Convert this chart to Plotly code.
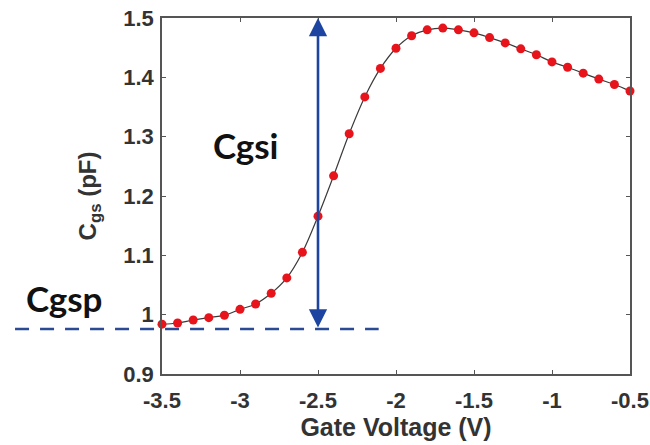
import plotly.graph_objects as go

# Data
gate_voltage = [-3.5, -3.4, -3.3, -3.2, -3.1, -3.0, -2.9, -2.8, -2.7, -2.6,
                -2.5, -2.4, -2.3, -2.2, -2.1, -2.0, -1.9, -1.8, -1.7, -1.6,
                -1.5, -1.4, -1.3, -1.2, -1.1, -1.0, -0.9, -0.8, -0.7, -0.6, -0.5]
cgs_pf = [0.984, 0.986, 0.991, 0.995, 0.999, 1.009, 1.018, 1.036, 1.062, 1.105,
          1.166, 1.234, 1.305, 1.367, 1.415, 1.449, 1.470, 1.480, 1.483, 1.480,
          1.475, 1.467, 1.458, 1.448, 1.438, 1.426, 1.417, 1.407, 1.397, 1.388, 1.377]
cgsp_level = 0.976
arrow_x = -2.5
x_ticks = [-3.5, -3, -2.5, -2, -1.5, -1, -0.5]
x_tick_text = ["-3.5", "-3", "-2.5", "-2", "-1.5", "-1", "-0.5"]
y_ticks = [0.9, 1.0, 1.1, 1.2, 1.3, 1.4, 1.5]
y_tick_text = ["0.9", "1", "1.1", "1.2", "1.3", "1.4", "1.5"]

fig = go.Figure()
fig.add_trace(go.Scatter(
    x=gate_voltage, y=cgs_pf, mode="lines+markers",
    line=dict(color="#3a3a3a", width=1.2, shape="spline"),
    marker=dict(color="#e8141c", size=9, line=dict(width=0)),
    showlegend=False, cliponaxis=False,
))

# dashed Cgsp level line
fig.add_shape(type="line", xref="paper", yref="y",
              x0=-0.314, x1=0.463, y0=cgsp_level, y1=cgsp_level,
              line=dict(color="#2b4a94", width=2.5, dash="14px,11px"))

# double-headed vertical arrow
fig.add_annotation(x=arrow_x, y=1.5, ax=arrow_x, ay=cgsp_level,
                   xref="x", yref="y", axref="x", ayref="y",
                   showarrow=True, arrowhead=2, startarrowhead=2,
                   arrowside="end+start", arrowsize=1.4, arrowwidth=2.6,
                   arrowcolor="#1c44a0", text="")

fig.add_annotation(x=(246 - 162) / 468, y=1 - (145 - 18) / 356, xref="paper", yref="paper",
                   xanchor="center", yanchor="middle",
                   text="Cgsi", showarrow=False,
                   font=dict(family="Lato", size=35, color="#111111", weight="bold"))
fig.add_annotation(x=(64 - 162) / 468, y=1 - (298 - 18) / 356, xref="paper", yref="paper",
                   xanchor="center", yanchor="middle",
                   text="Cgsp", showarrow=False,
                   font=dict(family="Lato", size=35, color="#111111", weight="bold"))

axis_common = dict(
    showline=True, linecolor="#555555", linewidth=1.5, mirror="ticks",
    ticks="inside", ticklen=4, tickcolor="#555555", showgrid=False, zeroline=False,
    automargin=False,
    tickfont=dict(family="Liberation Sans", size=22, color="#333333", weight="bold"),
)
fig.update_xaxes(range=[-3.5, -0.5], tickvals=x_ticks, ticktext=x_tick_text,
                 ticklabelstandoff=6,
                 title=dict(text="Gate Voltage (V)", standoff=4,
                            font=dict(family="Liberation Sans", size=25, color="#333333", weight="bold")),
                 **axis_common)
fig.update_yaxes(range=[0.9, 1.5], tickvals=y_ticks, ticktext=y_tick_text,
                 ticklabelstandoff=2,
                 title=dict(text="C<sub>gs</sub> (pF)", standoff=20,
                            font=dict(family="Liberation Sans", size=24, color="#333333", weight="bold")),
                 **axis_common)

fig.update_layout(width=650, height=445, margin=dict(l=162, r=20, t=18, b=71),
                  paper_bgcolor="white", plot_bgcolor="white")
fig.write_html("out.html")
